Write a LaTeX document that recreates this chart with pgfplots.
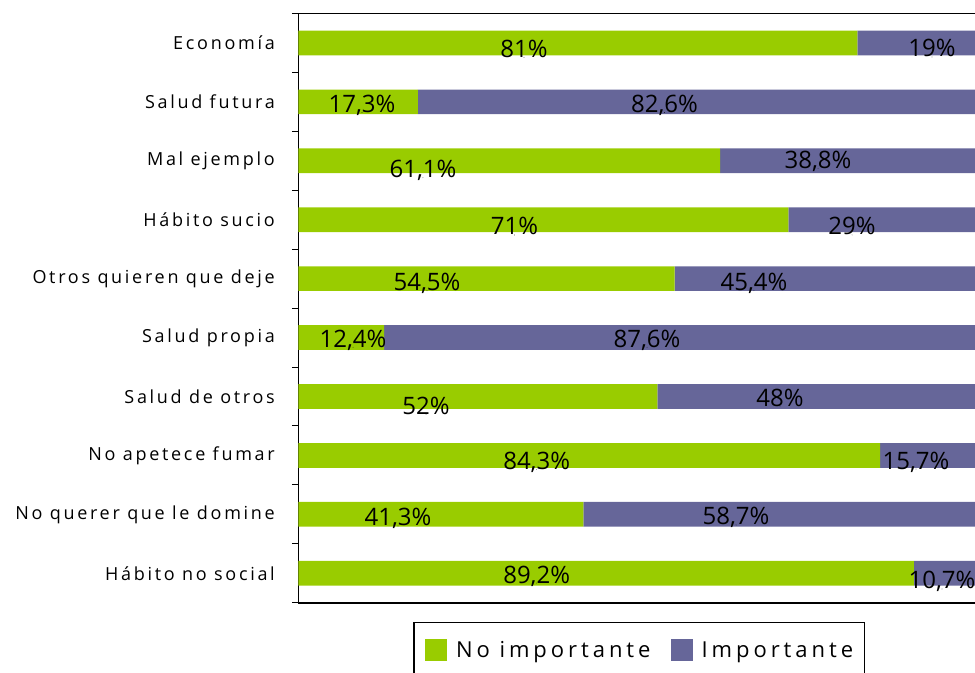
\documentclass[border=0pt]{standalone}
\usepackage{pgfplots}
\pgfplotsset{compat=1.18}
\usepackage{fontspec}
\setmainfont{Open Sans}
\newfontfamily\catfont{Open Sans}[LetterSpace=15]
\newfontfamily\legfont{Open Sans}[LetterSpace=18]
\definecolor{cgreen}{RGB}{153,204,0}
\definecolor{cpurple}{RGB}{102,102,153}
\begin{document}
\begin{tikzpicture}
\begin{axis}[
  name=ax,
  scale only axis, width=678pt, height=589.2pt,
  xbar stacked, bar width=24.7pt,
  xmin=0, xmax=98.26,
  ymin=-0.5, ymax=9.5, y dir=reverse,
  axis line style={line width=1.6pt, black},
  xtick=\empty,
  ytick pos=left,
  ytick={-0.5,0.5,...,9.5},
  y tick label as interval,
  yticklabels={Economía, Salud futura, Mal ejemplo, Hábito sucio, Otros quieren que deje, Salud propia, Salud de otros, No apetece fumar, No querer que le domine, Hábito no social},
  yticklabel style={font=\catfont\fontsize{18}{20}\selectfont, anchor=east, inner sep=0pt, xshift=-17pt},
  tick align=outside, major tick length=6.5pt,
  ytick style={black, line width=1pt},
  legend columns=2,
  legend style={at={(axis description cs:0.1695,-0.0322)}, anchor=north west,
    draw=black, line width=1.2pt, inner xsep=11pt, inner ysep=17pt,
    font=\legfont\fontsize{22}{24}\selectfont,
    nodes={inner sep=0pt},
    /tikz/every odd column/.append style={column sep=9pt},
    /tikz/every even column/.append style={column sep=20pt}},
  legend image code/.code={\draw[#1, draw=none] (0pt,-11pt) rectangle (22pt,11pt);},
]
\addplot[fill=cgreen, draw=none] coordinates {(81,0) (17.3,1) (61.1,2) (71,3) (54.5,4) (12.4,5) (52,6) (84.3,7) (41.3,8) (89.2,9)};
\addplot[fill=cpurple, draw=none] coordinates {(19,0) (82.6,1) (38.8,2) (29,3) (45.4,4) (87.6,5) (48,6) (15.7,7) (58.7,8) (10.7,9)};
\legend{No importante, Importante}
\end{axis}
\begin{axis}[
  scale only axis, width=678pt, height=589.2pt,
  xmin=0, xmax=98.26, ymin=-0.5, ymax=9.5, y dir=reverse,
  hide axis, clip=false,
  /pgf/number format/use comma,
  /pgf/number format/assume math mode=true,
]
\addplot[only marks, mark=*, mark size=0.01pt, mark options={draw=none, fill=none},
  point meta=explicit,
  nodes near coords={\pgfmathprintnumber{\pgfplotspointmeta}\%},
  nodes near coords style={font=\fontsize{24}{26}\selectfont, anchor=base, inner sep=0pt, text=black}]
table[meta=v] {
x y v
32.68 0.243 81
91.81 0.238 19
9.20 1.180 17.3
53.04 1.180 82.6
18.04 2.287 61.1
75.29 2.134 38.8
31.30 3.259 71
80.22 3.259 29
18.62 4.205 54.5
66.01 4.205 45.4
7.90 5.165 12.4
50.51 5.165 87.6
18.48 6.302 52
69.78 6.162 48
34.52 7.236 84.3
89.49 7.231 15.7
14.42 8.198 41.3
63.41 8.181 58.7
34.52 9.166 89.2
93.26 9.267 10.7
};
\end{axis}
\pgfresetboundingbox
\useasboundingbox ([xshift=-298.5pt,yshift=13.5pt]ax.north west) rectangle ([xshift=-1.5pt,yshift=-69.3pt]ax.south east);
\end{tikzpicture}
\end{document}
